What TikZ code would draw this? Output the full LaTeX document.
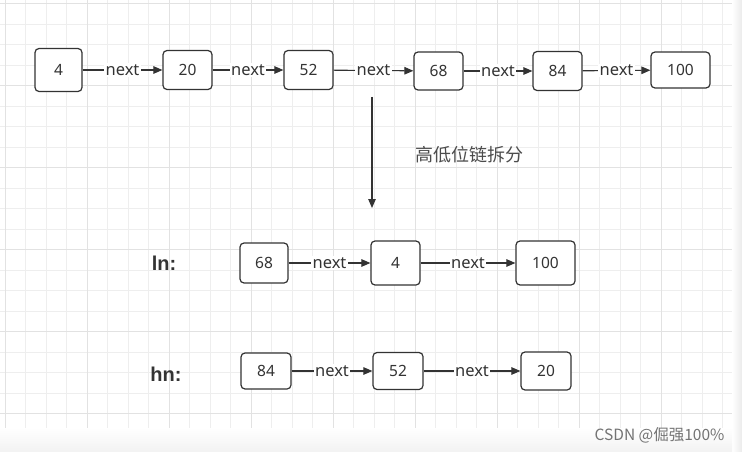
\documentclass[tikz,border=0pt]{standalone}
\usepackage{fontspec}
\setmainfont{Noto Sans}
\newfontfamily\cjk{Noto Sans CJK SC}
\newfontfamily\lblfont{Liberation Sans}
\usetikzlibrary{arrows.meta}
\definecolor{minorgrid}{HTML}{EEEEEE}
\definecolor{majorgrid}{HTML}{E2E2E2}
\definecolor{inkc}{HTML}{333333}
\tikzset{
  nodebox/.style={draw=inkc, line width=1.2pt, rounded corners=4pt, fill=white,
    inner sep=0pt, font=\fontsize{15.5}{17}\selectfont, text=inkc},
  link/.style={draw=inkc, line width=1.1pt, -{Triangle[length=9pt,width=7.5pt]}},
  nextlbl/.style={fill=white, inner sep=1.2pt, font=\fontsize{16.5}{18}\selectfont, text=inkc},
  rowlbl/.style={font=\lblfont\bfseries\fontsize{20}{22}\selectfont, text=inkc},
}
\begin{document}
\begin{tikzpicture}[x=1pt,y=-1pt]
\useasboundingbox (0,0) rectangle (742,452);
\fill[white] (0,0) rectangle (742,452);
% grid
\foreach \i in {0,...,35} {
  \draw[minorgrid, line width=0.8pt] ({5+20.5*\i},0) -- ({5+20.5*\i},428);
}
\foreach \j in {0,...,20} {
  \draw[minorgrid, line width=0.8pt] (0,{3.7+20.5*\j}) -- (732,{3.7+20.5*\j});
}
\foreach \i in {0,4,...,32} {
  \draw[majorgrid, line width=0.8pt] ({5+20.5*\i},0) -- ({5+20.5*\i},428);
}
\foreach \j in {0,4,...,20} {
  \draw[majorgrid, line width=0.8pt] (0,{3.7+20.5*\j}) -- (732,{3.7+20.5*\j});
}
\fill[left color=white, right color=black!8] (732,0) rectangle (742,452);
\fill[top color=white, bottom color=black!5] (0,428) rectangle (732,452);

% top row
\node[nodebox, minimum width=47pt, minimum height=43pt] (t4) at (58.5,70) {4};
\node[nodebox, minimum width=49pt, minimum height=39pt] (t20) at (187.5,70) {20};
\node[nodebox, minimum width=49pt, minimum height=39pt] (t52) at (308.5,70) {52};
\node[nodebox, minimum width=49pt, minimum height=38pt] (t68) at (438.5,71) {68};
\node[nodebox, minimum width=49pt, minimum height=39pt] (t84) at (557.5,71) {84};
\node[nodebox, minimum width=59pt, minimum height=36pt] (t100) at (680.5,70) {100};
\draw[link] (t4) -- node[nextlbl]{next} (t20);
\draw[link] (t20) -- node[nextlbl]{next} (t52);
\draw[link] (t52) -- node[nextlbl]{next} (t68);
\draw[link] (t68) -- node[nextlbl]{next} (t84);
\draw[link] (t84) -- node[nextlbl]{next} (t100);

% split arrow
\coordinate (s0) at (372,97);
\coordinate (s1) at (372,208);
\draw[link] (s0) -- (s1);
\node[font=\cjk\fontsize{18}{20}\selectfont, text=black!70] (split) at (469,155) {高低位链拆分};

% ln row
\node[rowlbl] (lnl) at (164,263) {ln:};
\node[nodebox, minimum width=48pt, minimum height=40pt] (l68) at (264,263) {68};
\node[nodebox, minimum width=49pt, minimum height=44pt] (l4) at (395.5,263) {4};
\node[nodebox, minimum width=59pt, minimum height=44pt] (l100) at (545.5,263) {100};
\draw[link] (l68) -- node[nextlbl]{next} (l4);
\draw[link] (l4) -- node[nextlbl]{next} (l100);

% hn row
\node[rowlbl] (hnl) at (166,374) {hn:};
\node[nodebox, minimum width=50pt, minimum height=36pt] (h84) at (266,371) {84};
\node[nodebox, minimum width=50pt, minimum height=37pt] (h52) at (398,371) {52};
\node[nodebox, minimum width=50pt, minimum height=38pt] (h20) at (546,371) {20};
\draw[link] (h84) -- node[nextlbl]{next} (h52);
\draw[link] (h52) -- node[nextlbl]{next} (h20);

% watermark
\node[font=\cjk\fontsize{15.5}{17}\selectfont, text=black!55, anchor=east] (wm) at (728,435) {CSDN @倔强100\%};
\end{tikzpicture}
\end{document}
